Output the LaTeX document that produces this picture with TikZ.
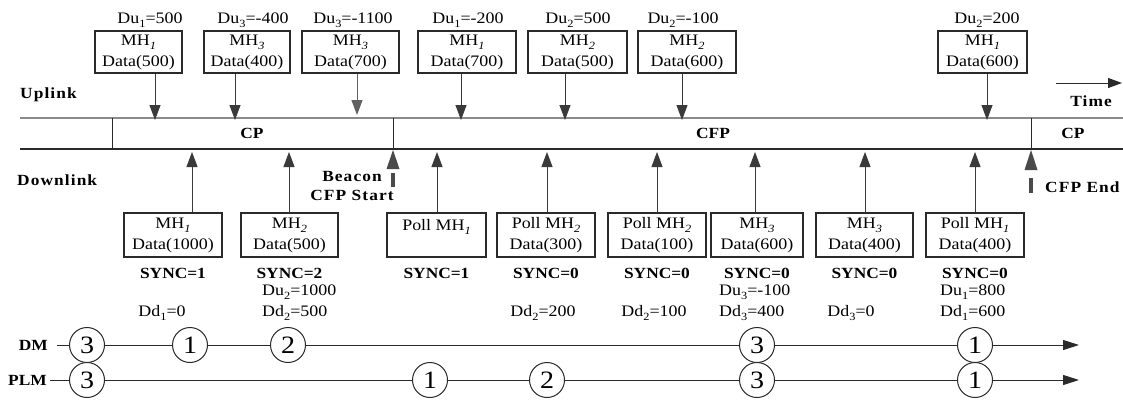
\documentclass[tikz,border=0pt]{standalone}
\usepackage{fontspec}
\setmainfont{Liberation Serif}[FakeStretch=1.12]
\usetikzlibrary{arrows.meta}
\newcommand\mysub[1]{\raisebox{-0.55ex}{\fontsize{11}{11}\selectfont #1}}
\newcommand\txtf{\fontsize{16}{21}\selectfont}
\newcommand\bldf{\bfseries\fontsize{15.5}{19}\selectfont}
\newcommand\spcf{\bfseries\fontsize{15.5}{19}\selectfont\addfontfeature{LetterSpace=7}}
\definecolor{dk}{HTML}{2A2A2A}
\definecolor{ar}{HTML}{3A3A3A}
\definecolor{gl}{HTML}{8A8A8A}
\definecolor{bc}{HTML}{4A4A4A}
\begin{document}
\begin{tikzpicture}[x=1pt,y=-1pt,
  box/.style={draw=dk,line width=1.2pt,minimum height=42pt,inner sep=0pt,align=center,font=\txtf},
  dbox/.style={box,minimum height=44pt},
  txt/.style={font=\txtf,inner sep=0pt},
  bld/.style={font=\bldf,inner sep=0pt},
  spc/.style={font=\spcf,inner sep=0pt},
  uarr/.style={draw=ar,line width=1pt,-{Triangle[length=15pt,width=11pt]}},
  bcn/.style={fill=bc,draw=none},
  mcirc/.style={circle,draw=dk,line width=1pt,fill=white,minimum size=35pt,inner sep=0pt,font=\fontsize{25}{25}\selectfont},
  mline/.style={draw=dk,line width=1pt}]
\useasboundingbox (0,0) rectangle (1123,399);

% time lines
\coordinate (ta) at (20,118); \coordinate (tb) at (1123,118);
\coordinate (la) at (20,149); \coordinate (lb) at (1123,149);
\draw[draw=gl,line width=1.3pt] (ta) -- (tb);
\draw[draw=dk,line width=1.1pt] (la) -- (lb);
\coordinate (v1a) at (112,118); \coordinate (v1b) at (112,149);
\coordinate (v2a) at (393,118); \coordinate (v2b) at (393,149);
\coordinate (v3a) at (1031,118); \coordinate (v3b) at (1031,149);
\draw[draw=dk,line width=1pt] (v1a) -- (v1b) (v2a) -- (v2b) (v3a) -- (v3b);
\node[bld] (cp1) at (252,133) {CP};
\node[bld] (cfp) at (713,133) {CFP};
\node[bld] (cp2) at (1073,133) {CP};

\node[spc,anchor=west] (up) at (20,95) {Uplink};
\node[spc,anchor=west] (down) at (17,180) {Downlink};

% time arrow
\coordinate (tma) at (1056,83); \coordinate (tmb) at (1122,83);
\draw[draw=dk,line width=1pt,-{Triangle[length=14pt,width=10pt]}] (tma) -- (tmb);
\node[spc] (time) at (1091,101) {Time};

% uplink boxes
\node[box,minimum width=87pt] (u1) at (138.5,52) {MH\mysub{\itshape 1}\\Data(500)};
\node[box,minimum width=86pt] (u2) at (247,52) {MH\mysub{\itshape 3}\\Data(400)};
\node[box,minimum width=97pt] (u3) at (350.5,52) {MH\mysub{\itshape 3}\\Data(700)};
\node[box,minimum width=98pt] (u4) at (467,52) {MH\mysub{\itshape 1}\\Data(700)};
\node[box,minimum width=99pt] (u5) at (577.5,52) {MH\mysub{\itshape 2}\\Data(500)};
\node[box,minimum width=98pt] (u6) at (687,52) {MH\mysub{\itshape 2}\\Data(600)};
\node[box,minimum width=89pt] (u7) at (982.5,52) {MH\mysub{\itshape 1}\\Data(600)};

\node[txt] (du1) at (150,20) {Du\mysub{1}=500};
\node[txt] (du2) at (253,20) {Du\mysub{3}=-400};
\node[txt] (du3) at (353,20) {Du\mysub{3}=-1100};
\node[txt] (du4) at (468,20) {Du\mysub{1}=-200};
\node[txt] (du5) at (578,20) {Du\mysub{2}=500};
\node[txt] (du6) at (683,20) {Du\mysub{2}=-100};
\node[txt] (du7) at (987,20) {Du\mysub{2}=200};

\coordinate (ut1) at (155,120); \coordinate (ut2) at (235,120);
\coordinate (ut3) at (357,115); \coordinate (ut4) at (461,120);
\coordinate (ut5) at (565,120); \coordinate (ut6) at (682,120);
\coordinate (ut7) at (987,120);
\draw[uarr] (u1.south -| ut1) -- (ut1);
\draw[uarr] (u2.south -| ut2) -- (ut2);
\draw[uarr,draw=gl!70!black] (u3.south -| ut3) -- (ut3);
\draw[uarr] (u4.south -| ut4) -- (ut4);
\draw[uarr] (u5.south -| ut5) -- (ut5);
\draw[uarr] (u6.south -| ut6) -- (ut6);
\draw[uarr] (u7.south -| ut7) -- (ut7);

% downlink boxes
\node[dbox,minimum width=98pt] (d1) at (173,235) {MH\mysub{\itshape 1}\\Data(1000)};
\node[dbox,minimum width=97pt] (d2) at (289.5,235) {MH\mysub{\itshape 2}\\Data(500)};
\node[dbox,minimum width=99pt] (d3) at (436.5,235) {Poll MH\mysub{\itshape 1}\\\mbox{}};
\node[dbox,minimum width=98pt] (d4) at (546,235) {Poll MH\mysub{\itshape 2}\\Data(300)};
\node[dbox,minimum width=98pt] (d5) at (657,235) {Poll MH\mysub{\itshape 2}\\Data(100)};
\node[dbox,minimum width=92pt] (d6) at (757,235) {MH\mysub{\itshape 3}\\Data(600)};
\node[dbox,minimum width=97pt] (d7) at (864.5,235) {MH\mysub{\itshape 3}\\Data(400)};
\node[dbox,minimum width=98pt] (d8) at (975,235) {Poll MH\mysub{\itshape 1}\\Data(400)};

\coordinate (dt1) at (192,152); \coordinate (dt2) at (289,152);
\coordinate (dt3) at (437,152); \coordinate (dt4) at (547,152);
\coordinate (dt5) at (657,152); \coordinate (dt6) at (755,152);
\coordinate (dt7) at (865,152); \coordinate (dt8) at (975,152);
\draw[uarr] (d1.north -| dt1) -- (dt1);
\draw[uarr] (d2.north -| dt2) -- (dt2);
\draw[uarr] (d3.north -| dt3) -- (dt3);
\draw[uarr] (d4.north -| dt4) -- (dt4);
\draw[uarr] (d5.north -| dt5) -- (dt5);
\draw[uarr] (d6.north -| dt6) -- (dt6);
\draw[uarr] (d7.north -| dt7) -- (dt7);
\draw[uarr] (d8.north -| dt8) -- (dt8);

\node[bld] (s1) at (173,273) {SYNC=1};
\node[bld] (s2) at (289.5,273) {SYNC=2};
\node[bld] (s3) at (436.5,273) {SYNC=1};
\node[bld] (s4) at (546,273) {SYNC=0};
\node[bld] (s5) at (657,273) {SYNC=0};
\node[bld] (s6) at (757,273) {SYNC=0};
\node[bld] (s7) at (864.5,273) {SYNC=0};
\node[bld] (s8) at (975,273) {SYNC=0};

% beacon markers
\fill[bcn] (393,150) -- (399.5,169) -- (386.5,169) -- cycle;
\fill[bcn] (391,173) rectangle (395,187);
\node[spc,align=center] (bcnt) at (352,186) {Beacon\\CFP Start};
\fill[bcn] (1031,150) -- (1037.5,170) -- (1024.5,170) -- cycle;
\fill[bcn] (1029,178) rectangle (1033,193);
\node[spc,anchor=west] (cfpend) at (1045,187) {CFP End};

% bottom labels
\node[txt] (l1) at (162,313) {Dd\mysub{1}=0};
\node[txt,anchor=west] (l2a) at (262,292) {Du\mysub{2}=1000};
\node[txt,anchor=west] (l2b) at (262,313) {Dd\mysub{2}=500};
\node[txt] (l3) at (543,313) {Dd\mysub{2}=200};
\node[txt] (l4) at (654,313) {Dd\mysub{2}=100};
\node[txt,anchor=west] (l5a) at (719,292) {Du\mysub{3}=-100};
\node[txt,anchor=west] (l5b) at (719,313) {Dd\mysub{3}=400};
\node[txt] (l6) at (851,313) {Dd\mysub{3}=0};
\node[txt,anchor=west] (l7a) at (940,292) {Du\mysub{1}=800};
\node[txt,anchor=west] (l7b) at (940,313) {Dd\mysub{1}=600};

% DM / PLM
\node[bld,anchor=east] (dm) at (48,345) {DM};
\node[bld,anchor=east] (plm) at (47,380) {PLM};
\coordinate (dmA) at (57,345); \coordinate (dmE) at (1079,345);
\coordinate (plA) at (50,380); \coordinate (plE) at (1079,380);
\node[mcirc] (m3) at (87,345) {3};
\node[mcirc] (m1) at (190,345) {1};
\node[mcirc] (m2) at (288,345) {2};
\node[mcirc] (m3b) at (757,345) {3};
\node[mcirc] (m1b) at (975,345) {1};
\node[mcirc] (p3) at (87,380) {3};
\node[mcirc] (p1) at (430,380) {1};
\node[mcirc] (p2) at (547,380) {2};
\node[mcirc] (p3b) at (757,380) {3};
\node[mcirc] (p1b) at (975,380) {1};
\draw[mline] (dmA) -- (m3) (m3) -- (m1) (m1) -- (m2) (m2) -- (m3b) (m3b) -- (m1b);
\draw[mline,-{Triangle[length=16pt,width=10pt]}] (m1b) -- (dmE);
\draw[mline] (plA) -- (p3) (p3) -- (p1) (p1) -- (p2) (p2) -- (p3b) (p3b) -- (p1b);
\draw[mline,-{Triangle[length=16pt,width=10pt]}] (p1b) -- (plE);
\end{tikzpicture}
\end{document}
